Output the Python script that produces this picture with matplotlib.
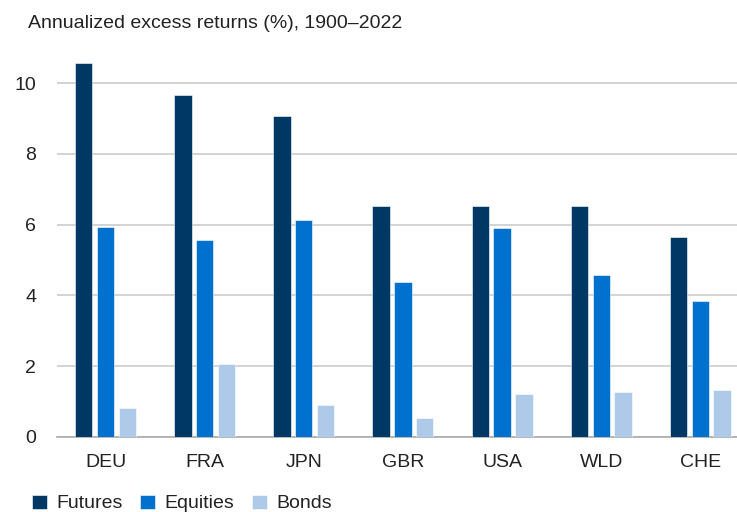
#!/usr/bin/env python
# coding: utf-8

import numpy as np
import matplotlib
matplotlib.use('Agg')
import matplotlib.pyplot as plt

countries = ['DEU', 'FRA', 'JPN', 'GBR', 'USA', 'WLD', 'CHE']
futures = [10.56, 9.66, 9.07, 6.54, 6.54, 6.54, 5.65]
equities = [5.93, 5.57, 6.13, 4.38, 5.91, 4.58, 3.84]
bonds = [0.82, 2.06, 0.90, 0.53, 1.21, 1.28, 1.34]

series_names = ['Futures', 'Equities', 'Bonds']
colors = ['#003865', '#0071CE', '#AFC9E9']

def main():
	plt.rcParams['font.family'] = ['Liberation Sans', 'DejaVu Sans']
	fig = plt.figure(figsize=(7.37, 5.12), dpi=100)
	ax = fig.add_axes([0.0773, 0.1465, 0.9227, 0.76])

	x = np.arange(len(countries))
	step = 0.22
	width = 0.175
	for i, (vals, name, col) in enumerate(zip([futures, equities, bonds], series_names, colors)):
		ax.bar(x + (i - 1) * step, vals, width, color=col, label=name,
			edgecolor='white', linewidth=0.4, zorder=3)

	ax.set_xlim(-0.49, 6.37)
	ax.set_ylim(0, 11)
	ax.set_yticks([0, 2, 4, 6, 8, 10])
	ax.set_xticks(x)
	ax.set_xticklabels(countries)
	ax.yaxis.grid(True, color='#CCCCCC', linewidth=1.2, zorder=0)
	ax.set_axisbelow(True)
	for s in ['top', 'right', 'left']:
		ax.spines[s].set_visible(False)
	ax.spines['bottom'].set_color('#AAAAAA')
	ax.spines['bottom'].set_linewidth(1.2)
	ax.tick_params(axis='both', length=0, labelsize=14, colors='#222222')
	ax.tick_params(axis='x', pad=12)
	ax.tick_params(axis='y', pad=15)

	fig.text(0.038, 0.955, 'Annualized excess returns (%), 1900\u20132022',
		fontsize=14, color='#222222', va='center', ha='left')

	fig.legend(loc='lower left', bbox_to_anchor=(0.02, -0.035), ncol=3, frameon=False,
		fontsize=14, handlelength=0.75, handleheight=0.75, handletextpad=0.5,
		columnspacing=0.9, labelcolor='#222222')

	fig.savefig('out.png', dpi=100)

if '__main__' == __name__:
	main()
